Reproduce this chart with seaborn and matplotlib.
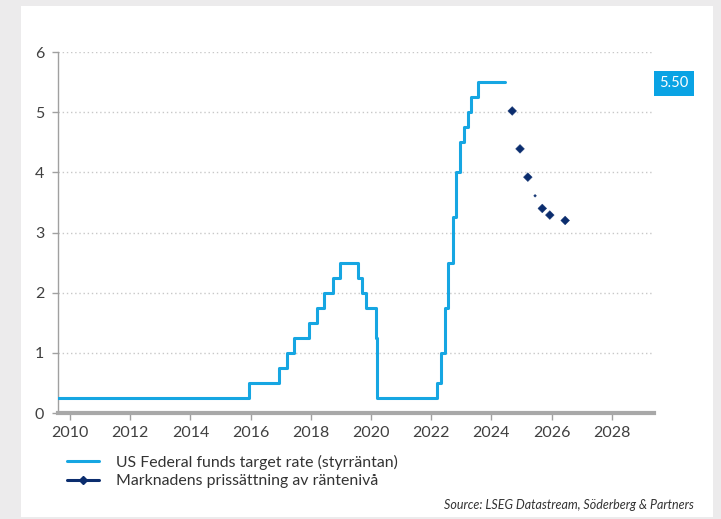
import pandas as pd
import matplotlib.pyplot as plt
import seaborn as sns
from matplotlib.lines import Line2D
from matplotlib.patches import Rectangle

sns.set_style('white')
plt.rcParams['font.family'] = ['Lato', 'DejaVu Sans']

# Fed funds target rate (upper bound), step changes
fed_dates = ['2009-08-01', '2015-12-17', '2016-12-15', '2017-03-16', '2017-06-15',
             '2017-12-14', '2018-03-22', '2018-06-14', '2018-09-27', '2018-12-20',
             '2019-08-01', '2019-09-19', '2019-10-31', '2020-03-04', '2020-03-16',
             '2022-03-17', '2022-05-05', '2022-06-16', '2022-07-28', '2022-09-22',
             '2022-11-03', '2022-12-15', '2023-02-02', '2023-03-23', '2023-05-04',
             '2023-07-27', '2024-06-15']
fed_rate = [0.25, 0.50, 0.75, 1.00, 1.25,
            1.50, 1.75, 2.00, 2.25, 2.50,
            2.25, 2.00, 1.75, 1.25, 0.25,
            0.50, 1.00, 1.75, 2.50, 3.25,
            4.00, 4.50, 4.75, 5.00, 5.25,
            5.50, 5.50]

# market pricing (decimal year)
mkt_year = [2024.69, 2024.95, 2025.21, 2025.45, 2025.69, 2025.94, 2026.45]
mkt_rate = [5.02, 4.39, 3.92, 3.61, 3.40, 3.29, 3.20]
mkt_size = [20, 20, 20, 2, 20, 20, 20]

fed_col = '#16a6e2'
mkt_col = '#0b2d6e'

d = pd.to_datetime(pd.Series(fed_dates))
fed = pd.DataFrame({'year': d.dt.year + (d.dt.dayofyear - 1) / 365.25, 'rate': fed_rate})
mkt = pd.DataFrame({'year': mkt_year, 'rate': mkt_rate})

fig = plt.figure(figsize=(7.21, 5.19), dpi=100)
fig.patch.set_facecolor('#ecebec')
fig.patches.append(Rectangle((21 / 721, 2 / 519), 692 / 721, 511 / 519,
                             transform=fig.transFigure, facecolor='white',
                             edgecolor='none', zorder=-5))
ax = fig.add_axes([0.0805, 0.2042, 0.8265, 0.6956])
ax.set_facecolor('none')

sns.lineplot(data=fed, x='year', y='rate', drawstyle='steps-post',
             color=fed_col, lw=2.2, ax=ax, zorder=3)
sns.scatterplot(data=mkt, x='year', y='rate', marker='D', s=mkt_size,
                color=mkt_col, edgecolor=mkt_col, ax=ax, zorder=4)

ax.set_xlim(2009.6, 2029.4)
ax.set_ylim(0, 6)
ax.set_xticks(range(2010, 2029, 2))
ax.set_yticks(range(0, 7))
ax.set_xlabel('')
ax.set_ylabel('')
ax.grid(axis='y', color='#c8c8c8', ls=(0, (1, 2)), lw=1)
ax.grid(axis='x', visible=False)

for s in ['top', 'right']:
    ax.spines[s].set_visible(False)
ax.spines['left'].set_color('#a0a0a0')
ax.spines['left'].set_linewidth(1)
ax.spines['bottom'].set_color('#a8a8a8')
ax.spines['bottom'].set_linewidth(3)
ax.tick_params(axis='x', direction='out', length=5, width=1, color='#a0a0a0',
               labelsize=11.5, labelcolor='#404040', pad=4, bottom=True)
ax.tick_params(axis='y', direction='out', length=4, width=1, color='#a0a0a0',
               labelsize=11.5, labelcolor='#404040', pad=6, left=True)

ax.annotate('5.50', xy=(1.0, 5.48), xycoords=('axes fraction', 'data'),
            xytext=(4, 0), textcoords='offset points', ha='left', va='center',
            color='white', fontsize=10.5,
            bbox=dict(boxstyle='square,pad=0.38', fc='#0aa3e4', ec='none'))

handles = [Line2D([], [], color=fed_col, lw=2.2),
           Line2D([], [], color=mkt_col, lw=2.2, marker='D', ms=4,
                  markevery=[0, 1])]
fig.legend(handles, ['US Federal funds target rate (styrräntan)',
                     'Marknadens prissättning av räntenivå'],
           loc='upper left', bbox_to_anchor=(0.073, 0.151), frameon=False,
           fontsize=11.4, handlelength=2.0, handletextpad=1.1, labelspacing=0.28,
           labelcolor='#333333')

fig.text(0.962, 0.027, 'Source: LSEG Datastream, Söderberg & Partners',
         ha='right', va='center', fontsize=9, style='italic', color='#333333')

plt.savefig('out.png', dpi=100, facecolor=fig.get_facecolor())
